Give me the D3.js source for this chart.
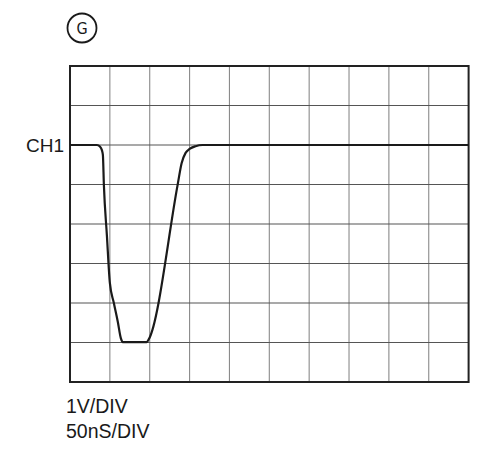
<!DOCTYPE html>
<html><head><meta charset="utf-8">
<script src="https://cdn.jsdelivr.net/npm/d3@7"></script>
<style>body{margin:0;background:#fff}svg{display:block}</style>
</head><body>
<script>
// time in ns (50 ns/div), voltage in V relative to CH1 ground marker (1 V/div)
const timeNs = [0, 33.75, 37.5, 40, 41.25, 42.5, 46.25, 50, 55, 60, 63.75, 66.25, 96.25, 98.75, 135, 140, 145, 150, 157.5, 166.25, 500];
const volts  = [0, 0, -0.04, -0.13, -0.25, -1.01, -2.28, -3.49, -4.0, -4.48, -4.89, -4.99, -4.99, -4.92, -1.01, -0.46, -0.20, -0.10, -0.03, 0, 0];
const xDivs = 10, yDivs = 8;
const channelLabel = "CH1";
const scaleLabels = ["1V/DIV", "50nS/DIV"];
const panelLabel = "G";

const W = 501, H = 449;
const svg = d3.select("body").append("svg").attr("width", W).attr("height", H);
const x = d3.scaleLinear().domain([0, 500]).range([70, 468.6]);
const y = d3.scaleLinear().domain([-6, 2]).range([382, 66]);

const g = svg.append("g");
// vertical grid
g.selectAll("line.v").data(d3.range(1, xDivs)).join("line")
  .attr("x1", d => x(d * 50)).attr("x2", d => x(d * 50))
  .attr("y1", y(2)).attr("y2", y(-6))
  .attr("stroke", "#8a8a8a").attr("stroke-width", 1.1);
// horizontal grid
g.selectAll("line.h").data(d3.range(1, yDivs)).join("line")
  .attr("x1", x(0)).attr("x2", x(500))
  .attr("y1", d => y(2 - d)).attr("y2", d => y(2 - d))
  .attr("stroke", "#555").attr("stroke-width", 1.1);
// frame
g.append("rect").attr("x", x(0)).attr("y", y(2))
  .attr("width", x(500) - x(0)).attr("height", y(-6) - y(2))
  .attr("fill", "none").attr("stroke", "#222").attr("stroke-width", 2);

// trace
const pts = timeNs.map((t, i) => [t, volts[i]]);
svg.append("path").datum(pts)
  .attr("d", d3.line().x(d => x(d[0])).y(d => y(d[1])).curve(d3.curveMonotoneX))
  .attr("fill", "none").attr("stroke", "#1a1a1a").attr("stroke-width", 2.2)
  .attr("stroke-linejoin", "round");

// labels
const font = "Liberation Sans, Arial, sans-serif";
svg.append("text").attr("x", 64).attr("y", y(0) + 7).attr("text-anchor", "end")
  .attr("font-family", font).attr("font-size", 19).attr("fill", "#1a1a1a").text(channelLabel);
svg.selectAll("text.s").data(scaleLabels).join("text")
  .attr("x", 66).attr("y", (d, i) => 413 + i * 25)
  .attr("font-family", font).attr("font-size", 19.5).attr("fill", "#1a1a1a").text(d => d);

svg.append("circle").attr("cx", 82).attr("cy", 28).attr("r", 14.5)
  .attr("fill", "none").attr("stroke", "#1a1a1a").attr("stroke-width", 1.8);
svg.append("text").attr("x", 82).attr("y", 34).attr("text-anchor", "middle")
  .attr("font-family", "DejaVu Sans Condensed, DejaVu Sans, sans-serif").attr("font-size", 16)
  .attr("fill", "#1a1a1a").text(panelLabel);
</script>
</body></html>
